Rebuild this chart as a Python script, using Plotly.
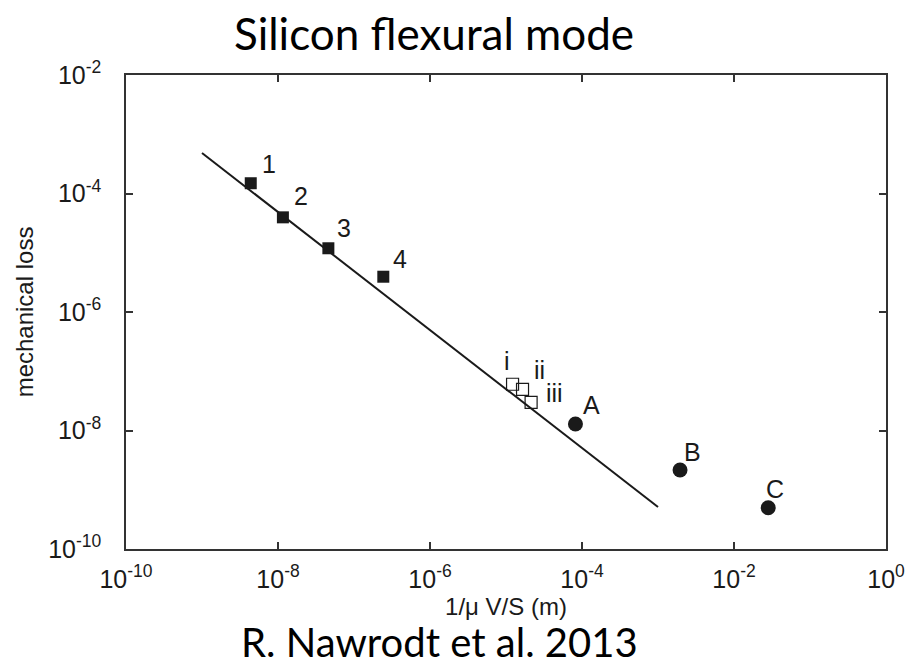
import numpy as np
import plotly.graph_objects as go

# --- data ---
filled_labels = ["1", "2", "3", "4"]
filled_x = [4.38e-9, 1.16e-8, 4.6e-8, 2.43e-7]
filled_y = [1.49e-4, 3.96e-5, 1.19e-5, 3.94e-6]

open_labels = ["i", "ii", "iii"]
open_x = [1.22e-5, 1.65e-5, 2.14e-5]
open_y = [6.03e-8, 4.96e-8, 2.99e-8]

circle_labels = ["A", "B", "C"]
circle_x = [8.2e-5, 1.95e-3, 2.82e-2]
circle_y = [1.29e-8, 2.15e-9, 4.98e-10]

fit_x = [1.0e-9, 1.0e-3]
fit_y = [4.83e-4, 5.1e-10]

x_tickvals = [1e-10, 1e-8, 1e-6, 1e-4, 1e-2, 1e0]
x_ticktext = ["10<sup>-10</sup>", "10<sup>-8</sup>", "10<sup>-6</sup>",
              "10<sup>-4</sup>", "10<sup>-2</sup>", "10<sup>0</sup>"]
y_tickvals = [1e-10, 1e-8, 1e-6, 1e-4, 1e-2]
y_ticktext = ["10<sup>-10</sup>", "10<sup>-8</sup>", "10<sup>-6</sup>",
              "10<sup>-4</sup>", "10<sup>-2</sup>"]

# label offsets in pixels (layout)
label_shift = {
    "1": (18, 19), "2": (18, 21), "3": (16, 20), "4": (17, 18),
    "i": (-6, 23), "ii": (17, 19), "iii": (23, 9),
    "A": (16, 19), "B": (12, 18), "C": (7, 19),
}

FONT = "Liberation Sans, Arial, Helvetica, sans-serif"
TFONT = "Lato, Open Sans, sans-serif"
INK = "#1a1a1a"
AX = "#333333"

# plot box in pixels (for paper-coordinate text placement)
L, R, T, B = 126, 892, 75, 549
def px(xp):
    return (xp - L) / (R - L)
def py(yp):
    return (B - yp) / (B - T)

fig = go.Figure()
fig.add_trace(go.Scatter(x=fit_x, y=fit_y, mode="lines",
                         line=dict(color=INK, width=2), showlegend=False))
fig.add_trace(go.Scatter(x=filled_x, y=filled_y, mode="markers",
                         marker=dict(symbol="square", size=12, color=INK),
                         showlegend=False))
fig.add_trace(go.Scatter(x=open_x, y=open_y, mode="markers",
                         marker=dict(symbol="square-open", size=12, color=INK,
                                     line=dict(width=1.2, color=INK)),
                         showlegend=False))
fig.add_trace(go.Scatter(x=circle_x, y=circle_y, mode="markers",
                         marker=dict(symbol="circle", size=15, color=INK),
                         showlegend=False))

annotations = []
for labs, xs, ys in [(filled_labels, filled_x, filled_y),
                     (open_labels, open_x, open_y),
                     (circle_labels, circle_x, circle_y)]:
    for lab, xv, yv in zip(labs, xs, ys):
        dx, dy = label_shift[lab]
        annotations.append(dict(x=np.log10(xv), y=np.log10(yv), xref="x", yref="y",
                                text=lab, showarrow=False, xshift=dx, yshift=dy,
                                font=dict(family=FONT, size=25, color=INK)))

annotations.append(dict(x=px(436), y=py(33), xref="paper", yref="paper",
                        text="Silicon flexural mode", showarrow=False,
                        xanchor="center", yanchor="middle",
                        font=dict(family=TFONT, size=44, color="black")))
annotations.append(dict(x=px(442), y=py(642), xref="paper", yref="paper",
                        text="R. Nawrodt et al. 2013", showarrow=False,
                        xanchor="center", yanchor="middle",
                        font=dict(family=TFONT, size=40, color="black")))

axis_common = dict(type="log", showgrid=False, zeroline=False, showline=True,
                   linecolor=AX, linewidth=1.5, mirror="ticks", ticks="inside",
                   ticklen=7, tickwidth=1.5, tickcolor=AX,
                   tickfont=dict(family=FONT, size=25, color=INK))

fig.update_layout(
    width=917, height=667,
    margin=dict(l=126, r=25, t=75, b=118),
    paper_bgcolor="white", plot_bgcolor="white",
    xaxis=dict(range=[-10, 0], tickvals=x_tickvals, ticktext=x_ticktext,
               ticklabelstandoff=7,
               title=dict(text="1/μ V/S (m)", standoff=1,
                          font=dict(family=FONT, size=24, color=INK)),
               **axis_common),
    yaxis=dict(range=[-10, -2], tickvals=y_tickvals, ticktext=y_ticktext,
               ticklabelstandoff=18,
               title=dict(text="mechanical loss", standoff=8,
                          font=dict(family=FONT, size=24, color=INK)),
               **axis_common),
    annotations=annotations,
)

fig.write_html("out.html")
